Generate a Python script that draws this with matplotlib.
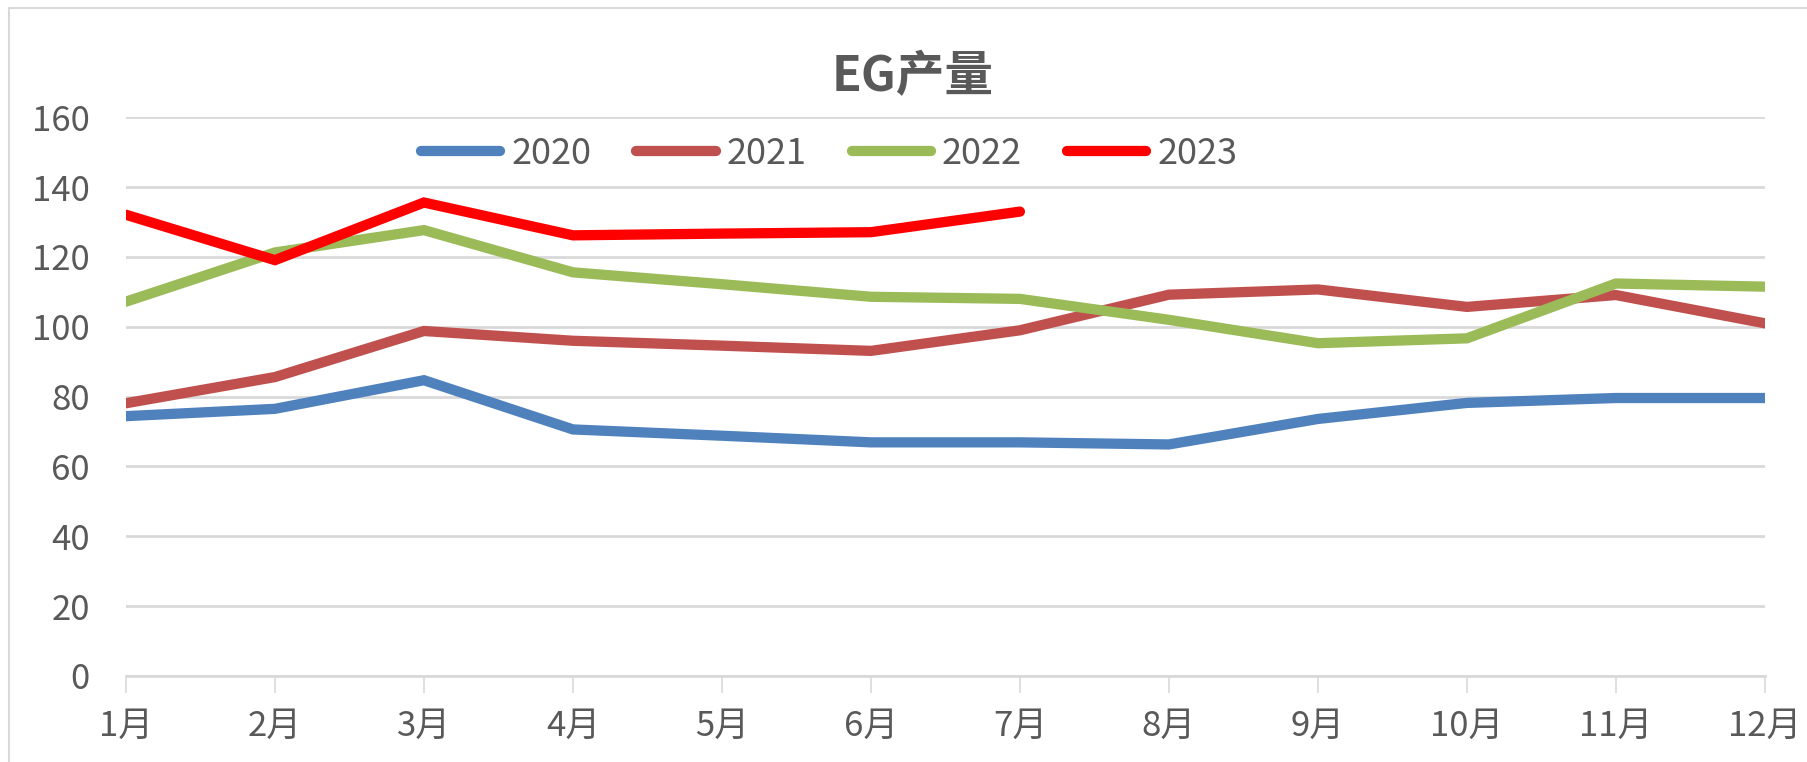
import matplotlib
matplotlib.use('Agg')
import matplotlib.pyplot as plt
import matplotlib.patches as patches

plt.rcParams['font.family'] = ['Noto Sans CJK SC', 'DejaVu Sans']

# chart data
months = ['1月', '2月', '3月', '4月', '5月', '6月', '7月', '8月', '9月', '10月', '11月', '12月']
years = ['2020', '2021', '2022', '2023']
eg2020 = [74.4, 76.5, 84.7, 70.6, 68.8, 66.9, 66.9, 66.3, 73.6, 78.2, 79.6, 79.6]
eg2021 = [78.1, 85.6, 98.8, 96.0, 94.6, 93.1, 99.0, 109.2, 110.7, 105.7, 109.1, 101.0]
eg2022 = [107.2, 121.3, 127.7, 115.6, 112.2, 108.6, 108.0, 102.0, 95.3, 96.7, 112.4, 111.5]
eg2023 = [132.1, 119.1, 135.6, 126.2, 126.7, 127.1, 133.0]
colors = ['#4F81BD', '#C0504D', '#9BBB59', '#FF0000']

textColor = '#595959'
gridColor = '#D9D9D9'

fig = plt.figure(figsize=(18.07, 7.62), dpi=100)
ax = fig.add_axes([0.0697, 0.113, 0.907, 0.733])

series = [eg2020, eg2021, eg2022, eg2023]
for name, vals, c in zip(years, series, colors):
	ax.plot(range(len(vals)), vals, color=c, lw=7.4, label=name,
		solid_capstyle='round', solid_joinstyle='miter')

ax.set_xlim(0, len(months) - 1)
ax.set_ylim(0, 160)
ax.set_yticks(range(0, 161, 20))
ax.set_xticks(range(len(months)))
ax.set_xticklabels(months)

ax.grid(axis='y', color=gridColor, lw=2)
ax.set_axisbelow(True)
for s in ['left', 'right', 'top']:
	ax.spines[s].set_visible(False)
ax.spines['bottom'].set_color(gridColor)
ax.spines['bottom'].set_linewidth(2)

ax.tick_params(axis='y', length=0, pad=26, labelsize=25, labelcolor=textColor)
ax.tick_params(axis='x', length=12, width=1.2, color=gridColor, pad=12,
	labelsize=25, labelcolor=textColor)

fig.text(0.505, 0.9, 'EG产量', ha='center', va='center', fontsize=35,
	fontweight='bold', color=textColor)

leg = ax.legend(loc='center', bbox_to_anchor=(0.429, 0.935), ncol=4, frameon=False,
	fontsize=26, handlelength=2.2, handletextpad=0.3, columnspacing=1.25,
	labelcolor=textColor)

# chart frame
fig.patches.append(patches.Rectangle((0.005, -0.01), 1.2, 0.999, transform=fig.transFigure,
	fill=False, edgecolor='#D9D9D9', lw=1.5))

fig.savefig('out.png', dpi=100)
